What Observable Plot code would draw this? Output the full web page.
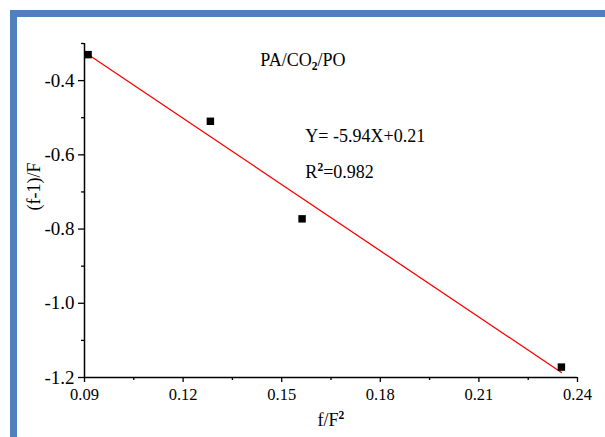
<!DOCTYPE html>
<html><head><meta charset="utf-8">
<script src="https://cdn.jsdelivr.net/npm/d3@7"></script>
<script src="https://cdn.jsdelivr.net/npm/@observablehq/plot@0.6"></script>
<style>
body{margin:0;background:#fff;}
#wrap{position:relative;width:605px;height:437px;overflow:hidden;background:#fff;}
#border{position:absolute;left:10px;top:10px;right:-20px;bottom:-20px;border-top:7px solid #4f81bd;border-left:7px solid #4f81bd;}
#chart{position:absolute;left:0;top:0;}
</style></head><body>
<div id="wrap"><div id="border"></div><div id="chart"></div></div>
<script>
// data
const fX = [0.0911, 0.1283, 0.1562, 0.2351];
const fY = [-0.330, -0.5096, -0.7725, -1.172];
const xTicks = [0.09, 0.12, 0.15, 0.18, 0.21, 0.24];
const xMinor = [0.105, 0.135, 0.165, 0.195, 0.225];
const yTicks = [-1.2, -1.0, -0.8, -0.6, -0.4];
const yMinor = [-1.1, -0.9, -0.7, -0.5, -0.3];
const title = "PA/CO_2/PO";
const equation = "Y= -5.94X+0.21";
const r2 = "R^2=0.982";
const xLabel = "f/F^2";
const yLabel = "(f-1)/F";

const points = fX.map((x, i) => ({x, y: fY[i]}));
const font = "'Liberation Serif','Times New Roman',serif";

const plot = Plot.plot({
  width: 605, height: 437,
  marginLeft: 84, marginRight: 28, marginTop: 43, marginBottom: 60,
  style: {fontFamily: font, fontSize: "15px", color: "#000", background: "transparent"},
  x: {domain: [0.09, 0.24]},
  y: {domain: [-1.2, -0.3]},
  marks: [
    Plot.axisX({ticks: xTicks, tickSize: 5, tickPadding: 6, strokeWidth: 1.3, tickFormat: d => d.toFixed(2), label: null, fontSize: 16.5}),
    Plot.axisX({ticks: xMinor, tickSize: 3, strokeWidth: 1.3, tickFormat: () => "", label: null}),
    Plot.axisY({ticks: yTicks, tickSize: 6, tickPadding: 4, strokeWidth: 1.3, tickFormat: d => d.toFixed(1), label: null, fontSize: 19}),
    Plot.axisY({ticks: yMinor, tickSize: 3, strokeWidth: 1.3, tickFormat: () => "", label: null}),
    Plot.ruleY([-1.2], {strokeWidth: 1.5}),
    Plot.ruleX([0.09], {strokeWidth: 1.5}),
    Plot.linearRegressionY(points, {x: "x", y: "y", stroke: "red", strokeWidth: 1.3, ci: 0}),
    Plot.dot(points, {x: "x", y: "y", symbol: "square", r: 4.2, fill: "black", stroke: "none"}),
    Plot.text([title], {x: 0.1435, y: -0.3596, text: d => d, textAnchor: "start", lineAnchor: "bottom", fontSize: 18}),
    Plot.text([equation], {x: 0.1572, y: -0.5657, text: d => d, textAnchor: "start", lineAnchor: "bottom", fontSize: 18}),
    Plot.text([r2], {x: 0.1572, y: -0.6613, text: d => d, textAnchor: "start", lineAnchor: "bottom", fontSize: 18}),
    Plot.text([yLabel], {frameAnchor: "left", dx: -50, rotate: -90, text: d => d, fontSize: 18}),
    Plot.text([xLabel], {frameAnchor: "bottom", dy: 48, lineAnchor: "bottom", text: d => d, fontSize: 18})
  ]
});

// turn ^2 / _2 markers into real super/subscript tspans
d3.select(plot).selectAll("text").each(function() {
  const el = this;
  if (el.querySelector("tspan")) return;
  const s = el.textContent;
  if (!/[\^_]/.test(s)) return;
  const fs = parseFloat(el.getAttribute("font-size") || getComputedStyle(el).fontSize) || 17;
  el.textContent = "";
  const re = /([\^_])(\w)/g;
  let last = 0, m, shift = 0;
  const sel = d3.select(el);
  while ((m = re.exec(s))) {
    if (m.index > last) sel.append("tspan").attr("dy", -shift).text(s.slice(last, m.index)), shift = 0;
    const off = m[1] === "^" ? -0.38 * fs : 0.28 * fs;
    sel.append("tspan").attr("dy", off).attr("font-size", 0.68 * fs).attr("font-weight", "bold").text(m[2]);
    shift = off;
    last = re.lastIndex;
  }
  if (last < s.length) sel.append("tspan").attr("dy", -shift).text(s.slice(last));
});

document.getElementById("chart").append(plot);
</script>
</body></html>
